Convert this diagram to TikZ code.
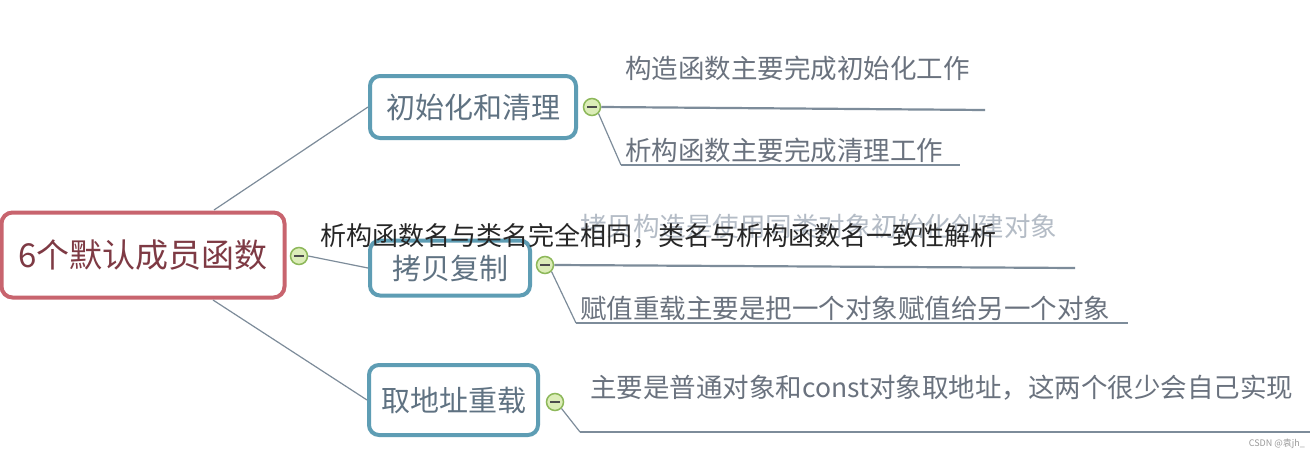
\documentclass[tikz,border=0pt]{standalone}
\usepackage{fontspec}
\newfontfamily\cjk{Noto Sans CJK SC}
\definecolor{rootred}{HTML}{C8646E}
\definecolor{roottext}{HTML}{7E3A44}
\definecolor{tealb}{HTML}{5E9DB4}
\definecolor{nodetext}{HTML}{5F7282}
\definecolor{leaftext}{HTML}{6A727E}
\definecolor{fadetext}{HTML}{B4BCC6}
\definecolor{linec}{HTML}{7D8C9A}
\definecolor{collfill}{HTML}{DCEDB8}
\definecolor{colldraw}{HTML}{8DB85A}
\tikzset{
  rootbox/.style={draw=rootred, line width=4pt, rounded corners=11pt, fill=white,
    minimum width=283pt, minimum height=85pt, inner sep=0pt,
    font=\cjk\fontsize{33}{36}\selectfont, text=roottext},
  childbox/.style={draw=tealb, line width=4pt, rounded corners=10pt, fill=white,
    inner sep=0pt, font=\cjk\fontsize{29}{32}\selectfont, text=nodetext},
  coll/.style={circle, draw=colldraw, fill=collfill, line width=1.5pt, minimum size=17pt, inner sep=0pt,
    path picture={\draw[line width=1.7pt, black!70] ([xshift=-5pt]path picture bounding box.center) -- ([xshift=5pt]path picture bounding box.center);}},
  conn/.style={draw=linec, line width=1.2pt},
  leafline/.style={draw=linec, line width=2.2pt},
  leaf/.style={anchor=west, inner sep=0pt, font=\cjk\fontsize{26.5}{30}\selectfont, text=leaftext},
}
\begin{document}
\begin{tikzpicture}[x=1pt,y=-1pt]
\useasboundingbox[fill=white] (0,0) rectangle (1315,455);

\coordinate (r1) at (214,210);
\coordinate (r3) at (213,300);

\node[rootbox] (root) at (143,255) {6个默认成员函数};
\node[childbox, minimum width=206pt, minimum height=62pt] (n1) at (473,107) {初始化和清理};
\node[childbox, minimum width=160pt, minimum height=55pt] (n2) at (450,268) {拷贝复制};
\node[childbox, minimum width=169pt, minimum height=70pt] (n3) at (453.5,400) {取地址重载};

\node[coll] (c0) at (299,256) {};
\node[coll] (c1) at (592,107) {};
\node[coll] (c2) at (545,265) {};
\node[coll] (c3) at (555,402) {};

\draw[conn] (r1) -- (n1.west);
\draw[conn] (r3) -- (n3.west);
\draw[conn] (c0.east) -- (n2.west);

\coordinate (e1) at (985,110);
\coordinate (k2) at (621,165);
\coordinate (e2) at (960,165);
\coordinate (e3) at (1075,268);
\coordinate (k4) at (576,323);
\coordinate (e4) at (1128,323);
\coordinate (k5) at (580,432);
\coordinate (e5) at (1310,432);

\draw[leafline] (c1.east) -- (e1);
\draw[conn] (c1.south east) -- (k2);
\draw[leafline] (k2) -- (e2);
\draw[leafline] (c2.east) -- (e3);
\draw[conn] (c2.south east) -- (k4);
\draw[leafline] (k4) -- (e4);
\draw[conn] (c3.south east) -- (k5);
\draw[leafline] (k5) -- (e5);

\node[leaf] (l1) at (625,68) {构造函数主要完成初始化工作};
\node[leaf] (l2) at (625,150) {析构函数主要完成清理工作};
\node[leaf, text=fadetext] (l3) at (580,226) {拷贝构造是使用同类对象初始化创建对象};
\node[leaf] (l4) at (580,308) {赋值重载主要是把一个对象赋值给另一个对象};
\node[leaf] (l5) at (590,388) {主要是普通对象和const对象取地址，这两个很少会自己实现};

\node[anchor=west, inner sep=0pt, font=\cjk\fontsize{26}{30}\selectfont, text=black!85] (ov) at (320,236) {析构函数名与类名完全相同，类名与析构函数名一致性解析};

\node[anchor=east, inner sep=0pt, font=\cjk\fontsize{9}{10}\selectfont, text=black!40] (csdn) at (1305,444) {CSDN @袁jh\_};
\end{tikzpicture}
\end{document}
